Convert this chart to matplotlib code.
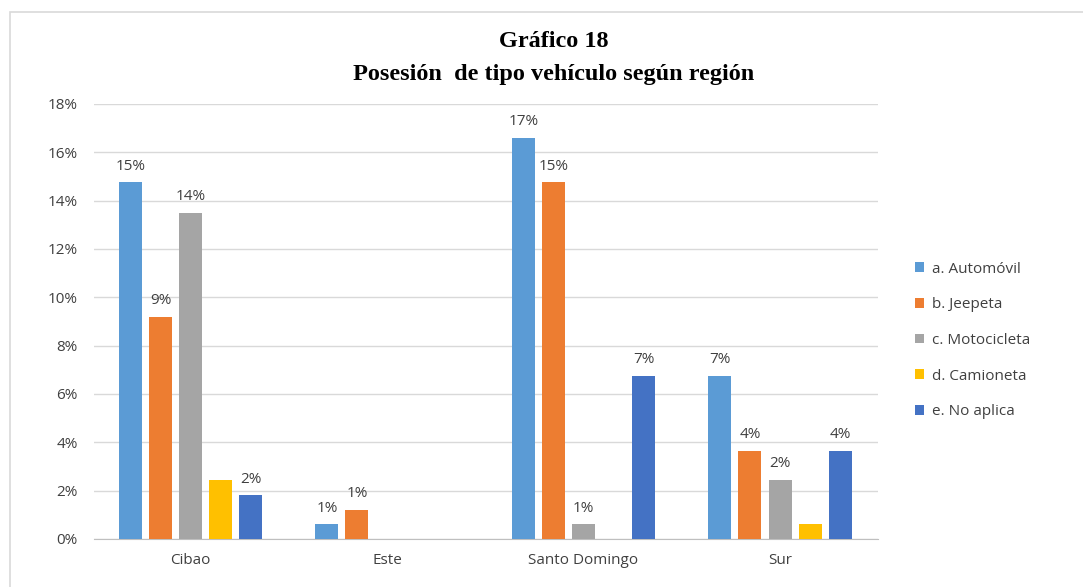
import numpy as np
import matplotlib.pyplot as plt
from matplotlib.patches import Rectangle

# Data (share of respondents, %)
regiones = ['Cibao', 'Este', 'Santo Domingo', 'Sur']
series = ['a. Automóvil', 'b. Jeepeta', 'c. Motocicleta', 'd. Camioneta', 'e. No aplica']
automovil = [14.75, 0.6, 16.6, 6.75]
jeepeta = [9.2, 1.2, 14.75, 3.65]
motocicleta = [13.5, 0.0, 0.6, 2.45]
camioneta = [2.45, 0.0, 0.0, 0.6]
no_aplica = [1.8, 0.0, 6.75, 3.65]
# data labels as shown in the original (some are missing)
etiquetas = [
    ['15%', '1%', '17%', '7%'],
    ['9%', '1%', '15%', '4%'],
    ['14%', '', '1%', '2%'],
    ['', '', '', ''],
    ['2%', '', '7%', '4%'],
]
colores = ['#5B9BD5', '#ED7D31', '#A5A5A5', '#FFC000', '#4472C4']

valores = [automovil, jeepeta, motocicleta, camioneta, no_aplica]

fig = plt.figure(figsize=(10.83, 5.87), dpi=100)
ax = fig.add_axes([0.087, 0.082, 0.724, 0.741])

x = np.arange(len(regiones))
paso = 0.153
ancho = 0.117
for i, (vals, col, nombre) in enumerate(zip(valores, colores, series)):
    pos = x + (i - 2) * paso
    bars = ax.bar(pos, np.array(vals) / 100, width=ancho, color=col, label=nombre, zorder=3)
    for b, txt in zip(bars, etiquetas[i]):
        if txt:
            ax.text(b.get_x() + b.get_width() / 2, b.get_height() + 0.0035, txt,
                    ha='center', va='bottom', fontsize=11, color='#404040',
                    family='Open Sans')

ax.set_xlim(-0.49, 3.5)
ax.set_ylim(0, 0.18)
ax.set_yticks(np.arange(0, 0.181, 0.02))
ax.set_yticklabels([f'{v}%' for v in range(0, 19, 2)])
ax.set_xticks(x)
ax.set_xticklabels(regiones)
ax.tick_params(length=0, labelsize=11, labelcolor='#404040', pad=12)
for lab in ax.get_xticklabels() + ax.get_yticklabels():
    lab.set_family('Open Sans')
ax.tick_params(axis='x', pad=10)
ax.grid(axis='y', color='#D9D9D9', linewidth=1, zorder=0)
for s in ['top', 'right', 'left']:
    ax.spines[s].set_visible(False)
ax.spines['bottom'].set_color('#BFBFBF')

fig.text(0.511, 0.93, 'Gráfico 18', ha='center', va='center', fontsize=17.5,
         fontweight='bold', family='Liberation Serif')
fig.text(0.511, 0.873, 'Posesión  de tipo vehículo según región', ha='center',
         va='center', fontsize=17.5, fontweight='bold', family='Liberation Serif')

leg = fig.legend(loc='center left', bbox_to_anchor=(0.832, 0.42), frameon=False,
                 handlelength=0.6, handleheight=0.6, handletextpad=0.5,
                 labelspacing=1.35, prop={'family': 'Open Sans', 'size': 11})
for t in leg.get_texts():
    t.set_color('#404040')

# light outer border of the chart area
fig.patches.append(Rectangle((0.009, -0.05), 1.1, 1.03, transform=fig.transFigure,
                             fill=False, edgecolor='#D9D9D9', linewidth=1.2))

fig.savefig('out.png', dpi=100)
